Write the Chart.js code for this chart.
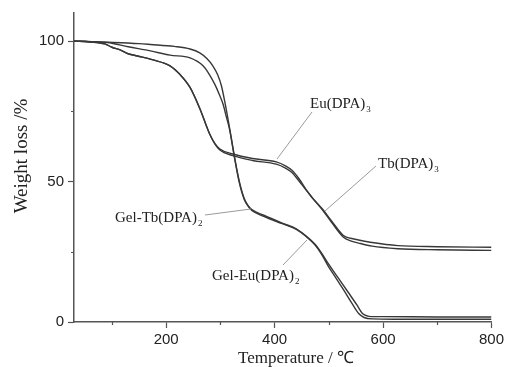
<!DOCTYPE html>
<html>
<head>
<meta charset="utf-8">
<script src="https://cdn.jsdelivr.net/npm/chart.js@4"></script>
<style>
html,body{margin:0;padding:0;background:#fff;}
#wrap{width:507px;height:367px;position:relative;}
</style>
</head>
<body>
<div id="wrap"><canvas id="c" width="507" height="367"></canvas></div>
<script>
// Temperature (°C) and weight (%)
const gelEuT = [30,90,150,171,215,244,262,275,286,295,302,308,317,326,335,344,352,358,380,414,440,457,475,487,500,518,536,552,562,572,585,600,700,800];
const gelEuW = [100,99.6,99.1,98.8,98.1,97.2,95.8,93.8,91.2,88,84,78.5,69,58.8,50,44,41.2,40,38,35.2,33.2,30.8,27.6,24.4,20.5,15.5,10.5,6,3,2.1,1.9,1.9,1.8,1.8];
const gelTbT = [30,92,130,171,207,244,268,280,290,298,305,311,317,326,335,344,352,358,380,414,440,457,475,487,500,512,527,543,555,565,580,620,700,800];
const gelTbW = [100,99.5,98,96.5,95,94,91.2,88,84.5,81,77.5,73,68.5,58.5,49.5,43.6,41,39.7,37.6,35,33,30.6,27.3,24,19.5,16,11.5,6.5,3,1.6,1.1,1,1,1];
const euT = [30,60,87,100,116,130,147,176,207,226,244,262,280,290,299,323,359,403,420,432,445,457,470,487,505,527,540,555,580,627,700,800];
const euW = [100,99.7,99,97.8,96.8,95.5,94.7,93.3,91.2,88,83.5,76,67,63.5,61.6,59.8,58.2,57,55.6,54,51,47.5,44,40.5,36,30.8,29.8,29.2,28.3,27.2,26.8,26.6];
const tbT = [30,60,87,100,116,130,147,176,207,226,244,262,280,290,299,323,359,403,420,432,445,457,470,487,505,527,540,555,580,627,700,800];
const tbW = [100,99.7,99,97.8,96.8,95.5,94.7,93.3,91.2,88,83.5,76,67,63.3,61.2,59.2,57.5,56.2,54.8,53.2,50.2,47.2,44.2,40.2,35.5,30.2,28.9,28.1,27,26.1,25.7,25.5];
const xTickValues = [200,400,600,800];
const xMinorValues = [100,300,500,700];
const yTickValues = [0,50,100];
const yMinorValues = [25,75];
const xTitle = 'Temperature / \u2103';
const yTitle = 'Weight loss /%';
const labels = [
  {main:'Eu(DPA)', sub:'3', x:310, y:108, line:[312,112,277,159]},
  {main:'Tb(DPA)', sub:'3', x:378, y:168, line:[376,166,325,211]},
  {main:'Gel-Tb(DPA)', sub:'2', x:115, y:222, line:[205,215,251,209]},
  {main:'Gel-Eu(DPA)', sub:'2', x:212, y:280, line:[283,265,307,240]}
];

function pts(T, W){ return T.map((t,i)=>({x:t,y:W[i]})); }
const lineColor = '#383838';
function ds(T,W){ return {data:pts(T,W), borderColor:lineColor, borderWidth:1.4, pointRadius:0, fill:false, cubicInterpolationMode:'monotone'}; }

const decor = {
  id:'decor',
  afterDraw(chart){
    const ctx = chart.ctx, xs = chart.scales.x, ys = chart.scales.y;
    ctx.save();
    ctx.strokeStyle = '#555'; ctx.lineWidth = 1.2;
    ctx.beginPath();
    xMinorValues.forEach(v=>{ const px = Math.round(xs.getPixelForValue(v))+0.5; ctx.moveTo(px, ys.bottom); ctx.lineTo(px, ys.bottom+3); });
    yMinorValues.forEach(v=>{ const py = Math.round(ys.getPixelForValue(v))+0.5; ctx.moveTo(xs.left, py); ctx.lineTo(xs.left-3, py); });
    ctx.stroke();
    // leader lines
    ctx.strokeStyle = '#9a9a9a'; ctx.lineWidth = 1;
    labels.forEach(l=>{ ctx.beginPath(); ctx.moveTo(l.line[0], l.line[1]); ctx.lineTo(l.line[2], l.line[3]); ctx.stroke(); });
    // labels
    ctx.fillStyle = '#222'; ctx.textBaseline = 'alphabetic'; ctx.textAlign = 'left';
    labels.forEach(l=>{
      ctx.font = '15px "Liberation Serif", "Times New Roman", serif';
      ctx.fillText(l.main, l.x, l.y);
      const w = ctx.measureText(l.main).width;
      ctx.font = '9px "Liberation Serif", "Times New Roman", serif';
      ctx.fillText(l.sub, l.x + w + 1, l.y + 4);
    });
    // axis titles
    ctx.font = '17px "Liberation Serif", "Times New Roman", serif';
    ctx.textAlign = 'center'; ctx.textBaseline = 'middle';
    ctx.fillText(xTitle, 296, 359);
    ctx.save();
    ctx.translate(22, 156); ctx.rotate(-Math.PI/2);
    ctx.font = '19px "Liberation Serif", "Times New Roman", serif';
    ctx.fillText(yTitle, 0, 0);
    ctx.restore();
    ctx.restore();
  }
};

new Chart(document.getElementById('c'), {
  type:'line',
  data:{ datasets:[ds(gelEuT,gelEuW), ds(gelTbT,gelTbW), ds(euT,euW), ds(tbT,tbW)] },
  options:{
    responsive:false, animation:false, devicePixelRatio:1,
    layout:{padding:{top:11,right:13,left:0,bottom:0}},
    plugins:{legend:{display:false}, tooltip:{enabled:false}},
    scales:{
      x:{type:'linear', min:30, max:800,
        afterBuildTicks(s){ s.ticks = xTickValues.map(v=>({value:v})); },
        afterFit(s){ s.height = 45; },
        grid:{drawOnChartArea:false, drawTicks:true, tickLength:6, tickColor:'#555', tickWidth:1.2},
        border:{color:'#555', width:1.5},
        ticks:{color:'#222', font:{family:'"Liberation Sans", Arial, sans-serif', size:15}, padding:3, maxRotation:0}
      },
      y:{type:'linear', min:0, max:110,
        afterBuildTicks(s){ s.ticks = yTickValues.map(v=>({value:v})); },
        afterFit(s){ s.width = 74; },
        grid:{drawOnChartArea:false, drawTicks:true, tickLength:6, tickColor:'#555', tickWidth:1.2},
        border:{color:'#555', width:1.5},
        ticks:{color:'#222', font:{family:'"Liberation Sans", Arial, sans-serif', size:15}, padding:4}
      }
    }
  },
  plugins:[decor]
});
</script>
</body>
</html>
